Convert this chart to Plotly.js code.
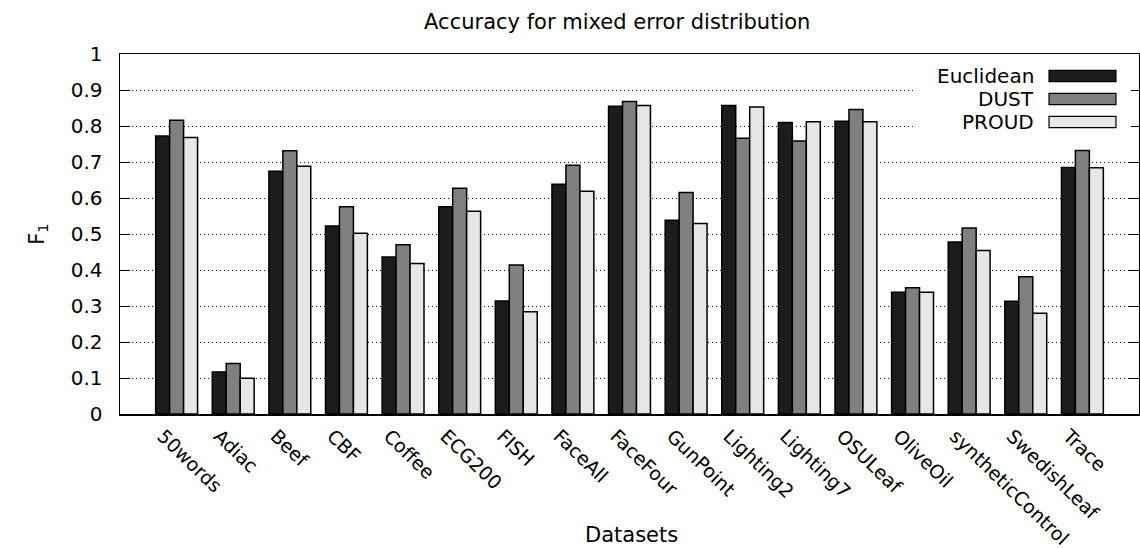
<!DOCTYPE html>
<html>
<head>
<meta charset="utf-8">
<script src="https://cdn.plot.ly/plotly-3.0.1.min.js"></script>
<style>
html, body { margin: 0; padding: 0; background: #fff; }
#chart { width: 1140px; height: 548px; }
</style>
</head>
<body>
<div id="chart"></div>
<script>
// ---- data ----
var categories = ['50words','Adiac','Beef','CBF','Coffee','ECG200','FISH','FaceAll','FaceFour','GunPoint','Lighting2','Lighting7','OSULeaf','OliveOil','syntheticControl','SwedishLeaf','Trace'];
var seriesNames = ['Euclidean','DUST','PROUD'];
var euclidean = [0.772,0.117,0.674,0.522,0.436,0.576,0.314,0.638,0.855,0.538,0.857,0.810,0.813,0.338,0.478,0.313,0.685];
var dust      = [0.816,0.140,0.731,0.576,0.470,0.627,0.414,0.691,0.868,0.615,0.766,0.758,0.846,0.351,0.517,0.381,0.732];
var proud     = [0.768,0.099,0.688,0.502,0.418,0.563,0.284,0.619,0.857,0.529,0.853,0.812,0.812,0.338,0.454,0.280,0.684];
var titleText = 'Accuracy for mixed error distribution';
var xTitle = 'Datasets';
var yTitle = 'F<sub>1</sub>';

// ---- styles ----
var FONT = 'DejaVu Sans, Liberation Sans, Arial, sans-serif';
var fills = ['#1c1c1c', '#808080', '#e6e6e6'];
var values = [euclidean, dust, proud];

var traces = values.map(function (v, i) {
  return {
    type: 'bar',
    name: seriesNames[i],
    x: categories,
    y: v,
    marker: { color: fills[i], line: { color: '#000', width: 1.5 } },
    showlegend: false,
    hoverinfo: 'x+y+name'
  };
});

// custom legend (text on the left, swatch on the right, like the original)
var shapes = [{
  type: 'rect', xref: 'paper', yref: 'paper', layer: 'above',
  x0: 0.778, x1: 0.992, y0: 0.765, y1: 0.992,
  fillcolor: '#fff', line: { width: 0 }
}];
var annotations = [];
var rowY = [0.939, 0.875, 0.811];
seriesNames.forEach(function (n, i) {
  shapes.push({
    type: 'rect', xref: 'paper', yref: 'paper', layer: 'above',
    x0: 0.9117, x1: 0.9774, y0: rowY[i] - 0.0155, y1: rowY[i] + 0.0155,
    fillcolor: fills[i], line: { color: '#000', width: 1.2 }
  });
  annotations.push({
    xref: 'paper', yref: 'paper', x: 0.899, y: rowY[i],
    xanchor: 'right', yanchor: 'middle', showarrow: false,
    text: n, font: { family: FONT, size: 20, color: '#000' }
  });
});
annotations.push({
  xref: 'paper', yref: 'paper', x: 0.502, y: -0.336,
  xanchor: 'center', yanchor: 'middle', showarrow: false,
  text: xTitle, font: { family: FONT, size: 21, color: '#000' }
});

var layout = {
  width: 1140, height: 548,
  margin: { l: 120, r: 1, t: 54, b: 134, pad: 0 },
  paper_bgcolor: '#fff', plot_bgcolor: '#fff',
  font: { family: FONT, size: 20, color: '#000' },
  title: {
    text: titleText, xref: 'paper', x: 0.488, xanchor: 'center',
    yref: 'container', y: 0.96, yanchor: 'middle',
    font: { family: FONT, size: 21, color: '#000' }
  },
  barmode: 'group', bargap: 0.26, bargroupgap: 0,
  xaxis: {
    type: 'category', range: [-1, 17],
    showgrid: false, zeroline: false,
    showline: true, linecolor: '#000', linewidth: 1.5, mirror: true,
    ticks: '', tickangle: 44, ticklabelshift: -14, ticklabelstandoff: 2,
    tickfont: { family: FONT, size: 19, color: '#000' }
  },
  yaxis: {
    range: [0, 1], dtick: 0.1, tick0: 0,
    showgrid: true, gridcolor: '#000', gridwidth: 1, griddash: '1px,3px',
    zeroline: false,
    showline: true, linecolor: '#000', linewidth: 1.5, mirror: 'ticks',
    ticks: 'inside', ticklen: 10, tickwidth: 1, tickcolor: '#000',
    ticklabelstandoff: 12,
    tickfont: { family: FONT, size: 20, color: '#000' },
    title: { text: yTitle, standoff: 20, font: { family: FONT, size: 21, color: '#000' } }
  },
  shapes: shapes,
  annotations: annotations
};

Plotly.newPlot('chart', traces, layout, { displayModeBar: false, staticPlot: true });
</script>
</body>
</html>
